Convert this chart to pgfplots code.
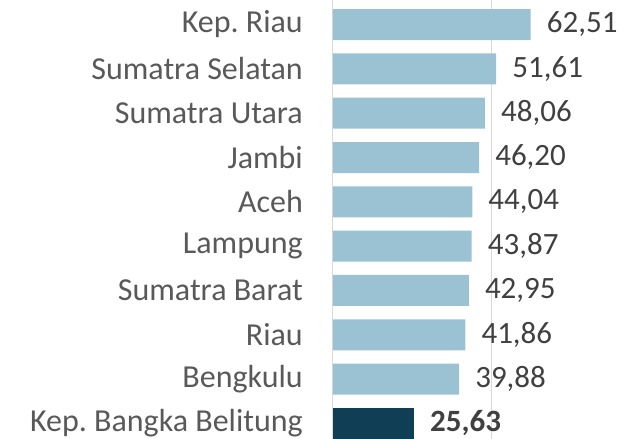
\documentclass[border=0pt]{standalone}
\usepackage{pgfplots}
\pgfplotsset{compat=1.18}
\usepackage{fontspec}
\setmainfont{Carlito}
\frenchspacing
\definecolor{barlight}{RGB}{155,194,210}
\definecolor{bardark}{RGB}{16,62,85}
\definecolor{labgray}{RGB}{89,89,89}
\definecolor{valgray}{RGB}{64,64,64}
\definecolor{gridgray}{RGB}{217,217,217}
\begin{document}
\begin{tikzpicture}
\begin{axis}[
    xbar,
    scale only axis,
    width=308pt, height=439pt,
    xmin=0, xmax=97.4,
    ymin=-0.35, ymax=9.553,
    axis line style={draw=none},
    xtick={0,50}, xticklabels={},
    xmajorgrids, major grid style={gridgray, line width=1pt},
    ytick={0,...,9},
    yticklabels={Kep. Bangka Belitung,Bengkulu,Riau,Sumatra Barat,Lampung,Aceh,Jambi,Sumatra Utara,Sumatra Selatan,Kep. Riau},
    major tick length=0pt,
    yticklabel style={font=\fontsize{32}{38}\selectfont, text=labgray, anchor=east, inner sep=0pt, xshift=-30pt},
    bar width=31pt,
    bar shift=0pt,
    nodes near coords,
    /pgf/number format/.cd, fixed, fixed zerofill, precision=2, use comma, assume math mode=true,
    /pgfplots/.cd,
    nodes near coords style={font=\fontsize{31}{36}\selectfont, text=valgray, anchor=west, inner sep=0pt, xshift=16pt},
]
\addplot[draw=none, fill=barlight] coordinates {
(39.88,1) (41.86,2) (42.95,3) (43.87,4) (44.04,5) (46.20,6) (48.06,7) (51.61,8) (62.51,9)};
\addplot[draw=none, fill=bardark, nodes near coords style={font=\fontsize{31}{36}\selectfont\bfseries}] coordinates {
(25.63,0)};
\end{axis}
\pgfresetboundingbox
\useasboundingbox (current axis.south west) ++(-333pt,0pt) rectangle (current axis.north east);
\end{tikzpicture}
\end{document}
